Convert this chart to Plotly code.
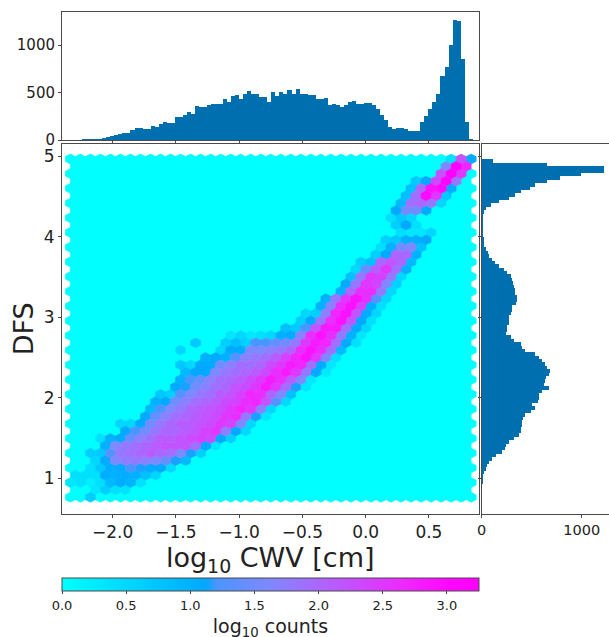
import plotly.graph_objects as go
from plotly.colors import sample_colorscale

# Histogram of log10 CWV (100 bins, left to right)
CWV_COUNTS = [0,0,0,1,1,6,7,7,15,35,37,55,62,70,72,105,125,128,113,118,145,140,165,185,183,178,245,240,265,295,
              275,360,345,345,365,380,380,380,435,405,460,470,430,480,520,490,490,450,450,400,510,465,505,480,530,490,540,490,
              490,470,475,435,430,440,365,380,365,350,370,405,415,380,385,390,390,365,330,260,210,140,115,130,130,120,100,100,100,
              190,250,330,400,490,675,770,1005,1265,1250,855,190,10]
# Histogram of DFS (100 bins, top to bottom)
DFS_COUNTS = [105,650,1215,1215,985,775,650,530,480,385,330,265,165,85,35,15,8,4,3,3,3,3,10,15,15,20,35,55,70,100,
              130,165,215,250,285,295,310,320,325,330,345,345,335,295,295,285,265,265,265,250,250,235,285,315,385,400,430,530,565,600,
              630,650,675,665,640,630,615,665,600,565,565,560,500,525,485,425,410,400,400,385,385,365,320,265,240,225,200,135,100,65,
              50,35,15,8,4,2,0,0,0,0]
# Hexbin cells: (row from top, first column, log10 counts); all other cells are 0
HEX_ROWS = [
 (0,38,[.4,2.2,1.1]),(1,37,[1.6,3.2,2.7]),(2,37,[2.2,3.25,2.5]),(3,34,[.7,1.1,2.3,3.1,1.8]),
 (4,34,[.8,2.0,2.9,3.0,1.1]),(5,33,[.8,1.9,3.0,2.5,.7]),(6,33,[.9,1.9,2.0,1.8,.5]),(7,32,[1.1,1.5,1.5,1.1]),
 (8,32,[.4,.7,.5]),(9,32,[.6,1.1,.4]),(10,33,[.4,.3,.3,.5]),(11,31,[.6,.7,1.0,1.0,1.1]),
 (12,31,[.4,1.0,1.5,1.6,.8]),(13,30,[.6,1.1,2.0,2.0,1.0]),(14,29,[.6,.8,2.0,2.2,2.0,.9]),
 (15,28,[.5,1.4,2.1,2.5,1.9,1.0]),(16,28,[.8,1.8,2.5,2.4,1.8,.5]),(17,27,[1.1,1.8,2.5,2.4,1.6,.6]),
 (18,27,[1.0,2.0,2.6,2.6,1.8,.5]),(19,25,[1.0,1.8,2.5,2.9,2.6,1.3,.5]),(20,25,[1.0,1.7,2.6,2.9,2.4,1.0,.4]),
 (21,23,[.5,.6,1.7,2.7,2.9,2.2,1.1,.5]),(22,23,[.6,1.1,1.8,2.6,2.9,2.2,1.1,.4]),
 (23,21,[.8,.7,1.2,2.2,2.8,2.8,1.9,1.1,.5]),(24,16,[.3,.5,.3,.4,.5,1.0,1.1,1.7,2.6,2.9,2.6,1.8,1.0,.3]),
 (25,12,[.7,0,0,.6,.8,.6,1.2,1.2,1.4,1.5,1.8,2.5,2.8,2.7,1.9,1.1,.4]),
 (26,11,[.5,0,0,0,.5,1.1,1.1,1.6,1.6,1.7,1.8,2.0,2.6,2.9,2.6,1.9,.9]),
 (27,13,[1.0,1.1,1.0,1.3,1.7,1.8,1.9,2.1,2.4,2.7,2.9,2.5,1.6,.4]),
 (28,11,[.7,.5,1.1,1.1,1.5,1.7,1.9,1.9,2.0,2.3,2.5,2.8,2.7,1.9,1.1,.3]),
 (29,11,[.9,1.1,1.1,1.6,1.8,1.9,2.0,2.1,2.3,2.6,2.8,2.5,1.8,1.1,.3]),
 (30,11,[1.0,1.2,1.4,1.7,1.9,2.0,2.1,2.3,2.5,2.8,2.6,2.1,1.6,.3]),
 (31,10,[1.1,1.15,1.5,1.7,1.9,2.0,2.2,2.3,2.5,2.8,2.5,1.9,1.15,.3]),
 (32,9,[.7,.6,1.3,1.6,1.8,1.9,2.1,2.2,2.4,2.7,2.6,2.0,1.6,.8]),
 (33,8,[1.0,1.1,1.5,1.7,1.9,2.0,2.1,2.3,2.4,2.6,2.7,2.2,1.3,.5]),
 (34,8,[.9,1.2,1.6,1.8,2.0,2.1,2.2,2.3,2.5,2.7,2.5,1.7,.5]),
 (35,7,[1.1,1.4,1.7,1.9,2.0,2.1,2.2,2.3,2.5,2.6,1.8,1.15,.3]),
 (36,5,[.5,.5,1.1,1.5,1.8,2.0,2.1,2.1,2.2,2.3,2.5,2.4,1.6,.5]),
 (37,5,[1.1,1.2,1.5,1.8,2.0,2.0,2.1,2.2,2.4,2.5,1.7,1.1,.5]),
 (38,3,[.4,1.0,1.1,1.4,1.7,1.9,2.1,2.1,2.2,2.3,2.4,2.3,1.1,.6]),
 (39,3,[1.0,1.6,1.8,1.9,2.0,2.1,2.2,2.2,2.2,1.9,1.1,.3]),
 (40,2,[.6,.7,1.3,1.8,1.9,2.0,2.1,2.0,1.9,1.6,1.15,.6]),
 (41,2,[.5,1.1,1.6,1.75,1.8,1.7,1.6,1.4,1.15,.9]),
 (42,2,[.4,.7,1.05,1.1,1.2,1.15,1.1,1.1,.5]),
 (43,0,[.4,.4,.4,1.05,1.0,1.05,1.0,.8,.5]),
 (44,0,[.3,.4,.2,.4,.9,1.05,.95,.4]),
 (45,2,[.3,.6,.4,.35]),(46,2,[.6]),
]
X_TICKS = [-2.0, -1.5, -1.0, -0.5, 0.0, 0.5]
Y_TICKS = [1, 2, 3, 4, 5]
CB_TICKS = [0.0, 0.5, 1.0, 1.5, 2.0, 2.5, 3.0]

W, H = 609, 637
FONT = "DejaVu Sans"
INK = "#222222"
SPINE = "#4a4a4a"
BLUE = "#006fb0"
COLORSCALE = [[0, "#00ffff"], [0.345, "#00a8ff"], [0.37, "#4a95ff"], [0.5, "#8088ff"], [0.65, "#b85cff"],
              [0.82, "#ee28ff"], [0.92, "#ff08ff"], [1, "#ff00ff"]]
CMAX = 3.25
X_RANGE = [-2.40, 0.892]
Y_RANGE = [0.56, 5.155]
X0, DX = -2.334, 0.0792
Y0, DY = 4.963, 0.0912
NCOL, NROW = 41, 47

def xdom(a, b): return [a / W, b / W]
def ydom(top, bottom): return [1 - bottom / H, 1 - top / H]

values = {}
for row, first, vals in HEX_ROWS:
    for k, v in enumerate(vals):
        values[(row, first + k)] = v

def centre(row, col):
    return X0 + DX * (col + (0.5 if row % 2 else 0)), Y0 - DY * row

def poly(cx, cy):
    hw, hh = DX / 2, DY * 2 / 3
    return ([cx, cx + hw, cx + hw, cx, cx - hw, cx - hw, cx, None],
            [cy + hh, cy + hh / 2, cy - hh / 2, cy - hh, cy - hh / 2, cy + hh / 2, cy + hh, None])

groups = {}
cx_all, cy_all, v_all = [], [], []
for row in range(NROW):
    for col in range(NCOL - (row % 2)):
        v = values.get((row, col), 0)
        cx, cy = centre(row, col)
        groups.setdefault(round(v, 2), []).append((cx, cy))
        cx_all.append(cx); cy_all.append(cy); v_all.append(v)

fig = go.Figure()
for v in sorted(groups):
    px, py = [], []
    for cx, cy in groups[v]:
        a, b = poly(cx, cy)
        px += a; py += b
    c = sample_colorscale(COLORSCALE, [min(v / CMAX, 1)])[0]
    fig.add_trace(go.Scatter(x=px, y=py, mode="lines", fill="toself", fillcolor=c,
                             line=dict(color=c, width=0.6), hoverinfo="skip", showlegend=False,
                             xaxis="x", yaxis="y"))
# invisible points carrying the colour scale
fig.add_trace(go.Scatter(x=cx_all, y=cy_all, mode="markers", showlegend=False, xaxis="x", yaxis="y",
                         marker=dict(size=6, opacity=0, color=v_all, coloraxis="coloraxis")))

bin_x = (X0 + DX * 40 + 0.012 - (X0 - 0.002)) / 100
fig.add_trace(go.Bar(x=[X0 - 0.002 + bin_x * (i + 0.5) for i in range(100)], y=CWV_COUNTS, width=bin_x,
                     marker=dict(color=BLUE, line=dict(width=0)), xaxis="x2", yaxis="y2", showlegend=False))
bin_y = (Y0 - (Y0 - DY * 46)) / 100
fig.add_trace(go.Bar(y=[Y0 - bin_y * (j + 0.5) for j in range(100)], x=DFS_COUNTS, width=bin_y, orientation="h",
                     marker=dict(color=BLUE, line=dict(width=0)), xaxis="x3", yaxis="y3", showlegend=False))

spine = dict(showline=True, linecolor=SPINE, linewidth=1, mirror=True, showgrid=False, zeroline=False,
             ticks="outside", ticklen=3, tickwidth=1, tickcolor=SPINE)
tf = lambda s: dict(family=FONT, size=s, color=INK)

fig.update_layout(
    width=W, height=H, autosize=False, margin=dict(l=0, r=0, t=0, b=0, autoexpand=False),
    paper_bgcolor="white", plot_bgcolor="white", bargap=0, font=tf(14),
    coloraxis=dict(
        cmin=0, cmax=CMAX, colorscale=COLORSCALE,
        colorbar=dict(orientation="h", x=62 / W, xanchor="left", y=1 - 578 / H, yanchor="top",
                      len=417 / W, lenmode="fraction", thickness=13, xpad=0, ypad=0,
                      outlinecolor=SPINE, outlinewidth=1, ticks="outside", ticklen=3, tickcolor=SPINE,
                      tickvals=CB_TICKS, ticktext=[f"{t:.1f}" for t in CB_TICKS], tickfont=tf(13),
                      title=dict(text="log<sub>10</sub> counts", side="bottom", font=tf(19)))),
    xaxis=dict(domain=xdom(62, 478.5), range=X_RANGE, tickvals=X_TICKS, tickformat=".1f", tickfont=tf(17), anchor="y",
               title=dict(text="log<sub>10</sub> CWV [cm]", font=tf(27), standoff=3), **spine),
    yaxis=dict(domain=ydom(143.5, 514), range=Y_RANGE, tickvals=Y_TICKS, tickfont=tf(17), anchor="x",
               title=dict(text="DFS", font=tf(27), standoff=2), **spine),
    xaxis2=dict(domain=xdom(62, 478.5), range=X_RANGE, tickvals=X_TICKS, showticklabels=False, anchor="y2", **spine),
    yaxis2=dict(domain=ydom(12, 140), range=[0, 1350], tickvals=[0, 500, 1000], tickfont=tf(15), anchor="x2", **spine),
    xaxis3=dict(domain=xdom(481.5, 609), range=[0, 1272], tickvals=[0, 1000], tickfont=tf(14.5), anchor="y3", **spine),
    yaxis3=dict(domain=ydom(143.5, 514), range=Y_RANGE, tickvals=Y_TICKS, showticklabels=False, anchor="x3", **spine),
)
fig.write_html("out.html", config={"displayModeBar": False},
               post_script="document.body.style.margin='0';document.documentElement.style.overflow='hidden';")
